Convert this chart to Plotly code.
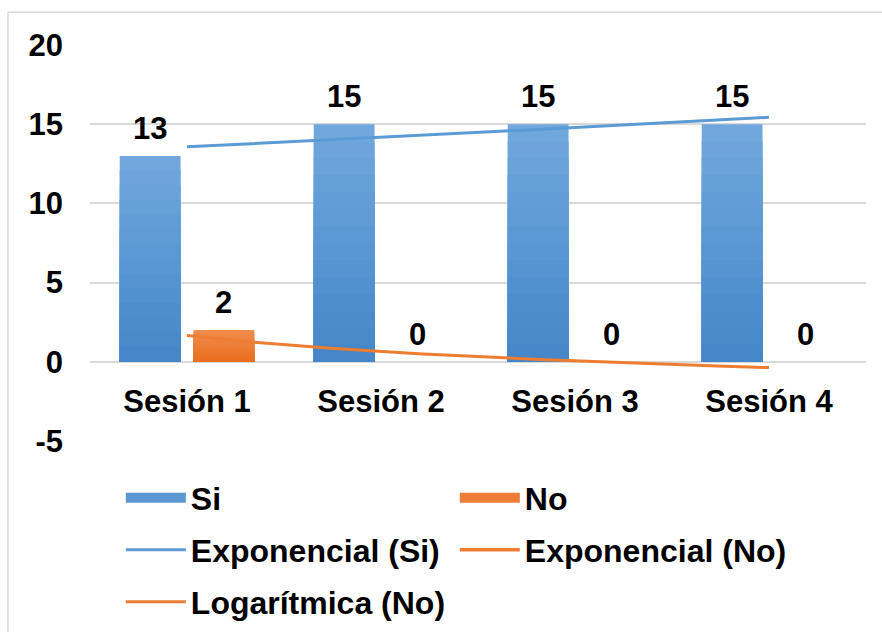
import numpy as np
import plotly.graph_objects as go

# ---- data ----
categories = ["Sesión 1", "Sesión 2", "Sesión 3", "Sesión 4"]
si_values = [13, 15, 15, 15]
no_values = [2, 0, 0, 0]
y_ticks = [-5, 0, 5, 10, 15, 20]

# ---- style ----
FONT = "Arial, 'Liberation Sans', sans-serif"
FONT_SIZE = 31
LEGEND_FONT_SIZE = 32
BLUE_TOP, BLUE_BOTTOM = (114, 168, 222), (67, 134, 200)
ORANGE_TOP, ORANGE_BOTTOM = (242, 141, 78), (233, 110, 30)
BLUE_LINE = "#5B9BD5"
ORANGE_LINE = "#ED7D31"
GRID = "#D9D9D9"
BAR_GAP = 0.24
GROUP_GAP = 0.175
LAYERS = 14


def blend(c0, c1, t):
    r, g, b = (round(a + (bb - a) * t) for a, bb in zip(c0, c1))
    return f"rgb({r},{g},{b})"


x_pos = np.arange(len(categories))
slot = (1 - BAR_GAP) / 2          # width of one bar slot inside a group

fig = go.Figure()

# Bars with a vertical gradient: overlaid layers of decreasing height,
# each later (shorter) layer darker, so the colour deepens toward the base.
for name, vals, top, bottom, grp in [
    ("Si", si_values, BLUE_TOP, BLUE_BOTTOM, "si"),
    ("No", no_values, ORANGE_TOP, ORANGE_BOTTOM, "no"),
]:
    vals = np.asarray(vals, dtype=float)
    for k in range(LAYERS):
        frac = 1 - k / LAYERS
        fig.add_trace(go.Bar(
            x=x_pos, y=vals * frac, offsetgroup=grp, name=name,
            marker=dict(color=blend(top, bottom, (k + 0.5) / LAYERS), line=dict(width=0)),
            showlegend=False, hoverinfo="skip" if k else "x+y",
        ))

# Legend swatches for the bar series
fig.add_trace(go.Scatter(x=[None], y=[None], mode="lines", name="Si",
                         line=dict(color=blend(BLUE_TOP, BLUE_BOTTOM, 0.5), width=18),
                         legend="legend"))
fig.add_trace(go.Scatter(x=[None], y=[None], mode="lines", name="No",
                         line=dict(color=blend(ORANGE_TOP, ORANGE_BOTTOM, 0.5), width=18),
                         legend="legend"))

# ---- trend lines (fitted on category index 1..n) ----
idx = np.arange(1, len(categories) + 1, dtype=float)
xs = np.linspace(idx[0], idx[-1], 90)

b_si, a_si = np.polyfit(idx, np.log(si_values), 1)
exp_si = np.exp(a_si + b_si * xs)

b_no, a_no = np.polyfit(np.log(idx), np.asarray(no_values, dtype=float), 1)
log_no = a_no + b_no * np.log(xs)

fig.add_trace(go.Scatter(x=xs - 1, y=exp_si, mode="lines", name="Exponencial (Si)",
                         line=dict(color=BLUE_LINE, width=3), legend="legend2"))
# an exponential fit is undefined for the zero values of "No": legend entry only
fig.add_trace(go.Scatter(x=[None], y=[None], mode="lines", name="Exponencial (No)",
                         line=dict(color=ORANGE_LINE, width=3.5), legend="legend2"))
fig.add_trace(go.Scatter(x=xs - 1, y=log_no, mode="lines", name="Logarítmica (No)",
                         line=dict(color=ORANGE_LINE, width=3), legend="legend3"))

# ---- value labels ----
label_font = dict(family=FONT, size=FONT_SIZE, color="black", weight="bold")
for vals, shift in [(si_values, -slot / 2), (no_values, slot / 2)]:
    for xi, v in zip(x_pos, vals):
        fig.add_annotation(x=xi + shift, y=v, text=str(v), showarrow=False,
                           yanchor="bottom", yshift=8, font=label_font)

# ---- outer chart border ----
fig.add_shape(type="rect", xref="paper", yref="paper",
              x0=-0.1057, x1=1.04, y0=-0.6, y1=1.083,
              line=dict(color=GRID, width=1.5), fillcolor="rgba(0,0,0,0)", layer="below")

legend_common = dict(orientation="h", xref="container", yref="container",
                     x=0.137, xanchor="left", yanchor="middle",
                     entrywidth=259, entrywidthmode="pixels", itemwidth=60,
                     bgcolor="rgba(0,0,0,0)", borderwidth=0,
                     font=dict(family=FONT, size=LEGEND_FONT_SIZE, color="black", weight="bold"))

tick_font = dict(family=FONT, size=FONT_SIZE, color="black", weight="bold")

fig.update_layout(
    width=882, height=632,
    margin=dict(l=90, r=16, t=45, b=191, autoexpand=False),
    paper_bgcolor="white", plot_bgcolor="white",
    barmode="group", bargap=BAR_GAP, bargroupgap=GROUP_GAP,
    font=dict(family=FONT, size=FONT_SIZE, color="black", weight="bold"),
    xaxis=dict(type="linear", range=[-0.5, len(categories) - 0.5],
               tickvals=list(x_pos), ticktext=categories,
               anchor="free", position=0.2,
               showgrid=False, zeroline=False, showline=False, ticks="",
               ticklabelstandoff=18, tickfont=tick_font),
    yaxis=dict(range=[-5, 20], tickvals=y_ticks, ticktext=[str(v) for v in y_ticks],
               showgrid=True, gridcolor=GRID, gridwidth=1.5,
               zeroline=False, showline=False, ticks="",
               ticklabelstandoff=26, tickfont=tick_font),
    legend=dict(legend_common, y=1 - 498 / 632),
    legend2=dict(legend_common, y=1 - 550 / 632),
    legend3=dict(legend_common, y=1 - 602 / 632),
    showlegend=True,
)

fig.write_html("out.html")
